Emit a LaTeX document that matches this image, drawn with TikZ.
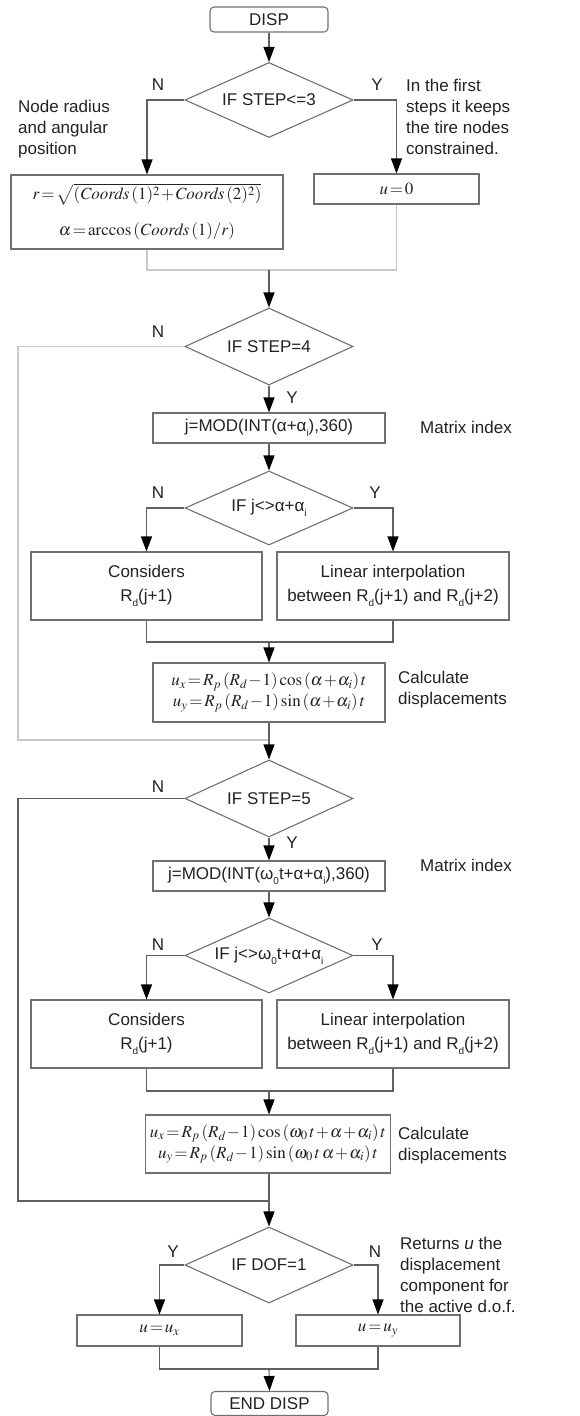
\documentclass[tikz,border=0pt]{standalone}
\usepackage{mathptmx}
\usepackage[no-math]{fontspec}
\setmainfont{Liberation Sans}
\usetikzlibrary{shapes.geometric,arrows.meta}
\definecolor{boxgray}{HTML}{707070}
\definecolor{linegray}{HTML}{606060}
\definecolor{litegray}{HTML}{C8C8C8}
\definecolor{txt}{HTML}{222222}
\newcommand\lowsub[1]{\raisebox{-0.55ex}{\fontsize{10}{10}\selectfont #1}}
\begin{document}
\begin{tikzpicture}[x=1pt,y=-1pt,
  every node/.style={font=\fontsize{17}{21}\selectfont,text=txt},
  box/.style={draw=boxgray,line width=1.1pt,rectangle,inner sep=0pt,align=center},
  mbox/.style={box,execute at begin node={\thickmuskip=2mu\medmuskip=1mu\thinmuskip=2mu}},
  term/.style={box,rounded corners=4pt,minimum width=118pt,minimum height=25pt},
  dec/.style={draw=boxgray,line width=1.1pt,diamond,aspect=2.2,inner sep=0pt,minimum width=168pt},
  conn/.style={draw=linegray,line width=1.1pt},
  lite/.style={draw=litegray,line width=1.1pt},
  arr/.style={-{Triangle[length=15pt,width=11pt,color=black]}},
  lbl/.style={inner sep=0pt},
  note/.style={inner sep=0pt,align=left,anchor=north west}]
\useasboundingbox (0,0) rectangle (580,1416);

% ---------- top ----------
\node[term] (disp) at (269,19.5) {DISP};
\node[dec,minimum height=75pt] (d1) at (269,100) {IF STEP<=3};
\node[lbl] (n1) at (158,85) {N};
\node[lbl] (y1) at (377,85) {Y};
\node[note] (t1) at (18,100) {Node radius\\and angular\\position};
\node[note] (t2) at (406,79) {In the first\\steps it keeps\\the tire nodes\\constrained.};
\node[mbox,minimum width=272pt,minimum height=74pt] (b1) at (147,212)
  {$r=\sqrt{(\mathit{Coords}\,(1)^2+\mathit{Coords}\,(2)^2)}$\\[15pt]$\alpha=\arccos\,(\mathit{Coords}\,(1)/r)$};
\node[mbox,minimum width=165pt,minimum height=30pt] (b2) at (396.5,189) {$u=0$};
\coordinate (j1) at (269,270);
\draw[conn,arr] (disp.south) -- (d1.north);
\draw[conn,arr] (d1.west) -| (b1.north);
\draw[conn,arr] (d1.east) -| (b2.north);
\draw[lite] (b1.south) |- (j1) -| (b2.south);

% ---------- STEP=4 ----------
\node[dec,minimum height=77pt] (d2) at (269,346.5) {IF STEP=4};
\draw[conn,arr] (j1) -- (d2.north);
\node[lbl] (n2) at (158,332) {N};
\node[lbl] (y2) at (292,398) {Y};
\node[box,minimum width=232pt,minimum height=30pt] (m1) at (269,428) {j=MOD(INT(α+α\lowsub{i}),360)};
\node[lbl,anchor=west] (mi1) at (420,427) {Matrix index};
\draw[conn,arr] (d2.south) -- (m1.north);
\node[dec,minimum height=74pt] (d3) at (269,508) {IF j<>α+α\lowsub{i}};
\draw[conn,arr] (m1.south) -- (d3.north);
\node[lbl] (n3) at (158,493) {N};
\node[lbl] (y3) at (375,493) {Y};
\node[box,minimum width=231pt,minimum height=68pt] (c1) at (146.5,586) {Considers\\[3pt]R\lowsub{d}(j+1)};
\node[box,minimum width=232pt,minimum height=68pt] (i1) at (393,586) {Linear interpolation\\[3pt]between R\lowsub{d}(j+1) and R\lowsub{d}(j+2)};
\draw[conn,arr] (d3.west) -| (c1.north);
\draw[conn,arr] (d3.east) -| (i1.north);
\coordinate (j3) at (269,642);
\draw[conn] (c1.south) |- (j3) -| (i1.south);
\node[mbox,minimum width=232pt,minimum height=59pt] (k1) at (269,692.5)
  {$u_x=R_p\,(R_d-1)\cos\,(\alpha+\alpha_i)\,t$\\$u_y=R_p\,(R_d-1)\sin\,(\alpha+\alpha_i)\,t$};
\draw[conn,arr] (j3) -- (k1.north);
\node[note] (cd1) at (398,671) {Calculate\\displacements};
\coordinate (j2) at (269,740);
\coordinate (l2) at (18,740);
\draw[lite] (d2.west) -| (l2) -- (j2);

% ---------- STEP=5 ----------
\node[dec,minimum height=77pt] (d4) at (269,798.5) {IF STEP=5};
\draw[conn,arr] (k1.south) -- (d4.north);
\node[lbl] (n4) at (158,787) {N};
\node[lbl] (y4) at (292,843) {Y};
\node[box,minimum width=232pt,minimum height=30pt] (m2) at (269,876) {j=MOD(INT(ω\lowsub{0}t+α+α\lowsub{i}),360)};
\node[lbl,anchor=west] (mi2) at (420,865) {Matrix index};
\draw[conn,arr] (d4.south) -- (m2.north);
\node[dec,minimum height=75pt] (d5) at (269,955.5) {IF j<>ω\lowsub{0}t+α+α\lowsub{i}};
\draw[conn,arr] (m2.south) -- (d5.north);
\node[lbl] (n5) at (158,945) {N};
\node[lbl] (y5) at (377,945) {Y};
\node[box,minimum width=231pt,minimum height=68pt] (c2) at (146.5,1034) {Considers\\[3pt]R\lowsub{d}(j+1)};
\node[box,minimum width=232pt,minimum height=68pt] (i2) at (393,1034) {Linear interpolation\\[3pt]between R\lowsub{d}(j+1) and R\lowsub{d}(j+2)};
\draw[conn,arr] (d5.west) -| (c2.north);
\draw[conn,arr] (d5.east) -| (i2.north);
\coordinate (j5) at (269,1091);
\draw[conn] (c2.south) |- (j5) -| (i2.south);
\node[mbox,minimum width=245pt,minimum height=58pt] (k2) at (268,1144)
  {$u_x=R_p\,(R_d-1)\cos\,(\omega_0\,t+\alpha+\alpha_i)\,t$\\$u_y=R_p\,(R_d-1)\sin\,(\omega_0\,t\,\alpha+\alpha_i)\,t$};
\draw[conn,arr] (j5) -- (j5 |- k2.north);
\node[note] (cd2) at (398,1127) {Calculate\\displacements};
\coordinate (j4) at (269,1201);
\coordinate (l4) at (18,1201);
\draw[conn] (d4.west) -| (l4) -- (j4);

% ---------- DOF ----------
\node[dec,minimum height=76pt] (d6) at (269,1265) {IF DOF=1};
\draw[conn,arr] (j4 |- k2.south) -- (d6.north);
\node[lbl] (y6) at (173,1252) {Y};
\node[lbl] (n6) at (375,1252) {N};
\node[note] (t3) at (400,1236.5) {Returns \textit{u} the\\displacement\\component for\\the active d.o.f.};
\node[mbox,minimum width=165pt,minimum height=31pt] (ux) at (159.5,1330.5) {$u=u_x$};
\node[mbox,minimum width=164pt,minimum height=31pt] (uy) at (378,1330.5) {$u=u_y$};
\draw[conn,arr] (d6.west) -| (ux.north);
\draw[conn,arr] (d6.east) -| (uy.north);
\coordinate (j6) at (269,1369);
\draw[conn] (ux.south) |- (j6) -| (uy.south);
\node[term,minimum width=117pt,minimum height=24pt] (end) at (269.5,1403.5) {END DISP};
\draw[conn,arr] (j6) -- (end.north);
\end{tikzpicture}
\end{document}
